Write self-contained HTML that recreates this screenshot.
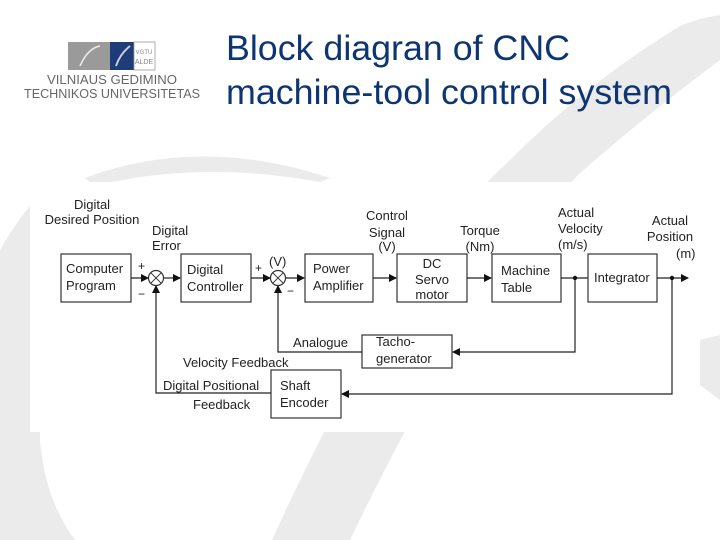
<!DOCTYPE html>
<html><head><meta charset="utf-8"><style>
html,body{margin:0;padding:0;background:#fff;}
body{width:720px;height:540px;overflow:hidden;position:relative;font-family:"Liberation Sans",sans-serif;}
</style></head><body>
<svg width="720" height="540" viewBox="0 0 720 540" xmlns="http://www.w3.org/2000/svg" style="position:absolute;left:0;top:0">
<g fill="#ebebeb">
<path d="M682,25 Q700,18 720,15 L720,60 Q640,120 578,175 Q470,290 350,540 L272,540 Q400,260 510,160 Q590,80 682,25 Z"/>
<path d="M85,178 Q200,135 330,178 L320,182 Q200,160 95,186 Z"/>
<path d="M0,250 Q20,215 40,195 L40,440 Q45,500 75,540 L0,540 Z"/>
<path d="M700,340 L720,335 L720,400 L700,385 Z"/>
</g>
<rect x="30" y="182" width="670" height="250" fill="#fff"/>
<rect x="68" y="42" width="42" height="28" fill="#9a9a9a"/>
<rect x="110" y="42" width="24" height="28" fill="#1d3c78"/>
<rect x="134" y="42" width="21" height="28" fill="#fff" stroke="#999" stroke-width="0.8"/>
<text x="144" y="54" font-size="6" fill="#888" text-anchor="middle">VGTU</text>
<text x="144" y="64" font-size="7" fill="#888" text-anchor="middle">ALDE</text>
<path d="M80,66 Q88,48 100,46" stroke="#eee" stroke-width="1.5" fill="none"/>
<path d="M116,66 Q120,54 130,46" stroke="#ccd" stroke-width="2" fill="none"/>
<text x="112" y="84" font-size="13" fill="#666" text-anchor="middle" textLength="130" lengthAdjust="spacingAndGlyphs">VILNIAUS GEDIMINO</text>
<text x="112" y="98" font-size="13" fill="#666" text-anchor="middle" textLength="176" lengthAdjust="spacingAndGlyphs">TECHNIKOS UNIVERSITETAS</text>
<text x="226" y="60" font-size="35" fill="#0d3574" textLength="344" lengthAdjust="spacingAndGlyphs">Block diagran of CNC</text>
<text x="226" y="104" font-size="35" fill="#0d3574" textLength="446" lengthAdjust="spacingAndGlyphs">machine-tool control system</text>
<defs><marker id="a" markerWidth="8" markerHeight="8" refX="7" refY="4" orient="auto" markerUnits="userSpaceOnUse"><path d="M0,0 L8,4 L0,8 Z" fill="#111"/></marker></defs>
<g fill="#fff" stroke="#333" stroke-width="1.2">
<rect x="61" y="254" width="70" height="48"/>
<rect x="181" y="254" width="70" height="48"/>
<rect x="305" y="254" width="68" height="48"/>
<rect x="397" y="254" width="70" height="48"/>
<rect x="492" y="254" width="69" height="48"/>
<rect x="588" y="254" width="69" height="48"/>
<rect x="362" y="335" width="90" height="33"/>
<rect x="271" y="370" width="70" height="48"/>
<circle cx="156" cy="278" r="7.5"/>
<circle cx="278" cy="278" r="7.5"/>
</g>
<g stroke="#333" stroke-width="1">
<path d="M150.7,272.7 L161.3,283.3 M161.3,272.7 L150.7,283.3"/>
<path d="M272.7,272.7 L283.3,283.3 M283.3,272.7 L272.7,283.3"/>
</g>
<g stroke="#222" stroke-width="1.2" fill="none" marker-end="url(#a)">
<path d="M131,278 L148,278"/>
<path d="M164,278 L180,278"/>
<path d="M251,278 L270,278"/>
<path d="M286,278 L304,278"/>
<path d="M373,278 L396,278"/>
<path d="M467,278 L491,278"/>
<path d="M657,278 L688,278"/>
<path d="M575,278 L575,352 L453,352"/>
<path d="M362,352 L278,352 L278,286"/>
<path d="M672,278 L672,394 L342,394"/>
<path d="M271,393 L156,393 L156,286"/>
</g>
<path d="M561,278 L588,278" stroke="#222" stroke-width="1.2"/>
<circle cx="575" cy="278" r="2.2" fill="#111"/>
<circle cx="672" cy="278" r="2.2" fill="#111"/>
<g font-size="13" fill="#222">
<text x="92" y="209" text-anchor="middle">Digital</text>
<text x="92" y="224" text-anchor="middle">Desired Position</text>
<text x="152" y="235">Digital</text>
<text x="152" y="250">Error</text>
<text x="138" y="270" font-size="12">+</text>
<text x="138" y="298" font-size="12">−</text>
<text x="255" y="272" font-size="12">+</text>
<text x="269" y="266">(V)</text>
<text x="287" y="295" font-size="12">−</text>
<text x="66" y="273">Computer</text>
<text x="66" y="290">Program</text>
<text x="187" y="274">Digital</text>
<text x="187" y="291">Controller</text>
<text x="313" y="273">Power</text>
<text x="313" y="290">Amplifier</text>
<text x="432" y="268" text-anchor="middle">DC</text>
<text x="432" y="284" text-anchor="middle">Servo</text>
<text x="432" y="299" text-anchor="middle">motor</text>
<text x="501" y="275">Machine</text>
<text x="501" y="292">Table</text>
<text x="594" y="282">Integrator</text>
<text x="387" y="220" text-anchor="middle">Control</text>
<text x="387" y="237" text-anchor="middle">Signal</text>
<text x="387" y="251" text-anchor="middle">(V)</text>
<text x="480" y="235" text-anchor="middle">Torque</text>
<text x="480" y="251" text-anchor="middle">(Nm)</text>
<text x="558" y="217">Actual</text>
<text x="558" y="233">Velocity</text>
<text x="558" y="249">(m/s)</text>
<text x="670" y="225" text-anchor="middle">Actual</text>
<text x="670" y="241" text-anchor="middle">Position</text>
<text x="676" y="258">(m)</text>
<text x="376" y="346">Tacho-</text>
<text x="376" y="363">generator</text>
<text x="348" y="347" text-anchor="end">Analogue</text>
<text x="183" y="367">Velocity Feedback</text>
<text x="163" y="390">Digital Positional</text>
<text x="193" y="409">Feedback</text>
<text x="280" y="390">Shaft</text>
<text x="280" y="407">Encoder</text>
</g>
</svg>
</body></html>
